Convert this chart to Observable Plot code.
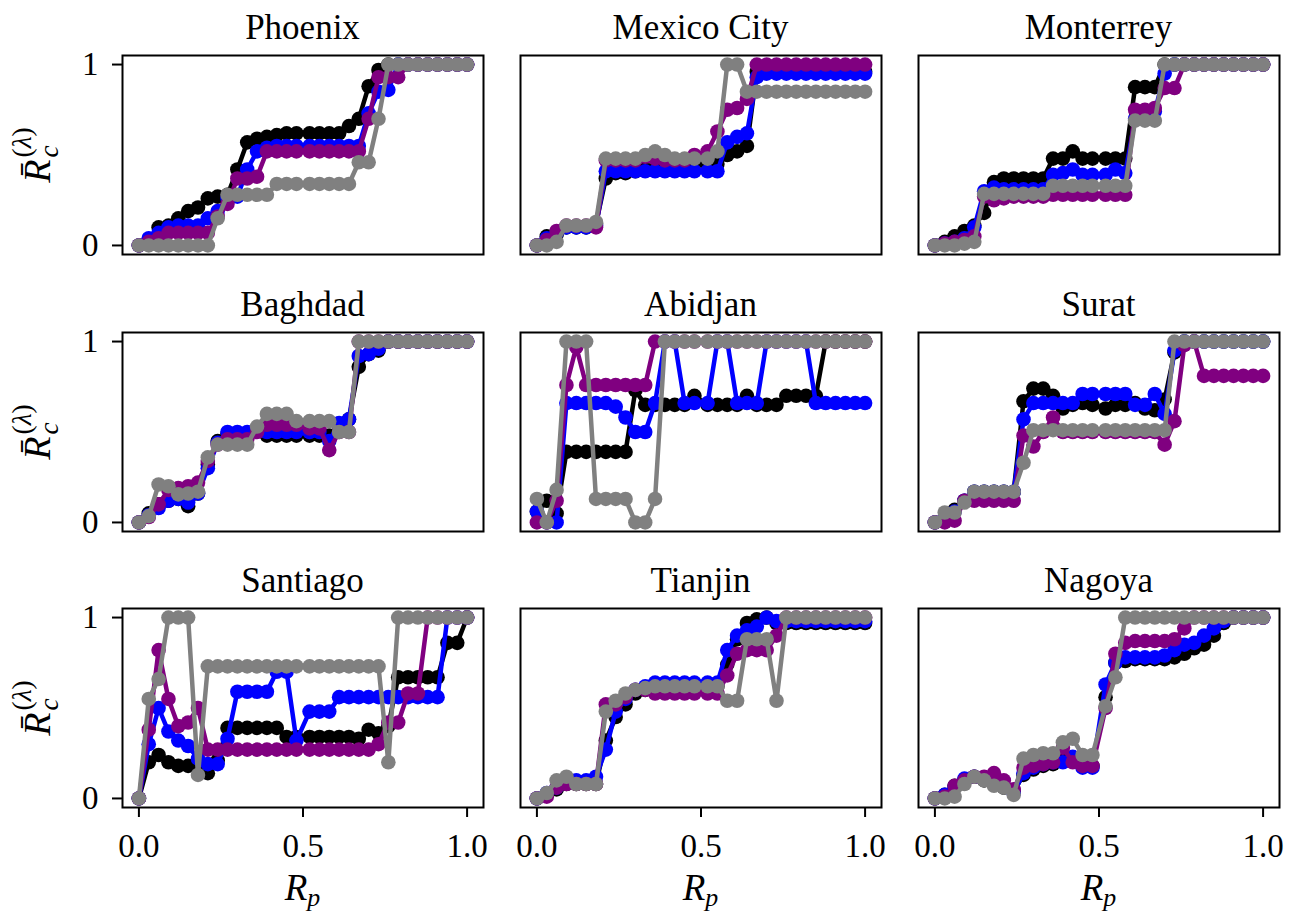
<!DOCTYPE html>
<html><head><meta charset="utf-8">
<script src="https://cdn.jsdelivr.net/npm/d3@7"></script>
<script src="https://cdn.jsdelivr.net/npm/@observablehq/plot@0.6"></script>
<style>
body{margin:0;background:#fff;}
#fig{position:relative;width:1299px;height:917px;overflow:hidden;font-family:"Liberation Serif",serif;color:#000;background:#fff;}
.panel{position:absolute;}
.lbl{position:absolute;white-space:nowrap;font-size:33px;line-height:1;}
.title{font-size:35px;}
.ctr{transform:translate(-50%,0);}
.rot{transform:translate(-50%,-50%) rotate(-90deg);font-size:38px;}
.stack{display:inline-block;vertical-align:-0.3em;font-size:0.72em;line-height:1;margin-left:2px;}
.stack span{display:block;}
.xl{font-size:37px;}
[aria-label$="axis tick"]{stroke-width:2px;}
</style></head><body><div id="fig"></div>
<script>
// shared x positions (R_p)
const xs = [0.00,0.03,0.06,0.09,0.12,0.15,0.18,0.21,0.24,0.27,0.30,0.33,0.36,0.39,0.42,0.45,0.48,0.52,0.55,0.58,0.61,0.64,0.67,0.70,0.73,0.76,0.79,0.82,0.85,0.88,0.91,0.94,0.97,1.00];
const cities = ["Phoenix","Mexico City","Monterrey","Baghdad","Abidjan","Surat","Santiago","Tianjin","Nagoya"];
const seriesColors = ["#000000","#0000ff","#800080","#808080"];
const xTicks = [0,0.5,1];
const yTicks = [0,1];

const phoenixBlack = [0,0.03,0.10,0.11,0.15,0.19,0.21,0.26,0.27,0.28,0.42,0.57,0.59,0.60,0.61,0.62,0.62,0.62,0.62,0.62,0.62,0.66,0.70,0.88,0.97,1,1,1,1,1,1,1,1,1];
const phoenixBlue = [0,0.04,0.07,0.10,0.11,0.11,0.11,0.15,0.19,0.26,0.27,0.42,0.52,0.54,0.55,0.55,0.55,0.55,0.55,0.55,0.55,0.55,0.55,0.73,0.85,0.86,1,1,1,1,1,1,1,1];
const phoenixPurple = [0,0.02,0.04,0.07,0.07,0.07,0.07,0.07,0.16,0.23,0.37,0.37,0.38,0.52,0.52,0.52,0.52,0.52,0.52,0.52,0.52,0.52,0.52,0.70,0.93,0.93,0.93,1,1,1,1,1,1,1];
const phoenixGray = [0,0,0,0,0,0,0,0,0.15,0.28,0.28,0.28,0.28,0.28,0.34,0.34,0.34,0.34,0.34,0.34,0.34,0.34,0.46,0.46,0.70,1,1,1,1,1,1,1,1,1];

const mexicoBlack = [0,0.05,0.06,0.10,0.10,0.10,0.12,0.37,0.40,0.40,0.41,0.42,0.43,0.44,0.45,0.45,0.45,0.45,0.45,0.50,0.52,0.55,0.96,0.96,0.96,0.96,0.96,0.96,0.96,0.96,0.96,0.96,0.96,0.96];
const mexicoBlue = [0,0.04,0.07,0.10,0.10,0.10,0.11,0.41,0.41,0.41,0.41,0.41,0.41,0.41,0.41,0.41,0.41,0.41,0.41,0.57,0.60,0.62,0.93,0.95,0.95,0.95,0.95,0.95,0.95,0.95,0.95,0.95,0.95,0.95];
const mexicoPurple = [0,0.03,0.08,0.11,0.11,0.11,0.10,0.47,0.47,0.47,0.47,0.49,0.48,0.47,0.47,0.47,0.50,0.52,0.63,0.75,0.76,0.81,1,1,1,1,1,1,1,1,1,1,1,1];
const mexicoGray = [0,0,0.02,0.11,0.11,0.11,0.13,0.48,0.48,0.48,0.48,0.50,0.52,0.50,0.48,0.48,0.48,0.48,0.52,1,1,0.85,0.85,0.85,0.85,0.85,0.85,0.85,0.85,0.85,0.85,0.85,0.85,0.85];

const monterreyBlack = [0,0.02,0.05,0.08,0.11,0.18,0.35,0.37,0.37,0.37,0.37,0.37,0.48,0.48,0.52,0.48,0.48,0.48,0.48,0.48,0.875,0.875,0.875,1,1,1,1,1,1,1,1,1,1,1];
const monterreyBlue = [0,0.01,0.02,0.04,0.10,0.30,0.32,0.31,0.31,0.31,0.31,0.31,0.39,0.40,0.42,0.39,0.39,0.39,0.42,0.40,0.70,0.70,0.74,0.95,1,1,1,1,1,1,1,1,1,1];
const monterreyPurple = [0,0.01,0.02,0.03,0.05,0.27,0.25,0.26,0.27,0.27,0.27,0.27,0.28,0.28,0.28,0.28,0.28,0.28,0.28,0.28,0.75,0.75,0.76,0.87,0.87,1,1,1,1,1,1,1,1,1];
const monterreyGray = [0,0,0,0.01,0.02,0.285,0.285,0.285,0.285,0.285,0.285,0.285,0.33,0.33,0.33,0.33,0.33,0.33,0.33,0.33,0.69,0.69,0.69,1,1,1,1,1,1,1,1,1,1,1];

const baghdadBlack = [0,0.05,0.10,0.12,0.13,0.09,0.16,0.32,0.45,0.49,0.49,0.49,0.52,0.48,0.48,0.48,0.48,0.48,0.48,0.48,0.54,0.57,0.86,0.93,0.95,1,1,1,1,1,1,1,1,1];
const baghdadBlue = [0,0.04,0.08,0.12,0.13,0.11,0.16,0.30,0.44,0.50,0.50,0.50,0.52,0.50,0.50,0.50,0.50,0.50,0.50,0.45,0.55,0.57,0.92,0.93,0.96,1,1,1,1,1,1,1,1,1];
const baghdadPurple = [0,0.03,0.10,0.18,0.19,0.20,0.22,0.34,0.43,0.46,0.46,0.46,0.50,0.54,0.54,0.54,0.54,0.52,0.52,0.40,0.50,0.50,1,1,1,1,1,1,1,1,1,1,1,1];
const baghdadGray = [0,0.035,0.21,0.20,0.155,0.16,0.17,0.36,0.43,0.43,0.43,0.43,0.53,0.60,0.60,0.60,0.56,0.56,0.56,0.56,0.50,0.50,1,1,1,1,1,1,1,1,1,1,1,1];

const abidjanBlack = [0.06,0.12,0.05,0.39,0.39,0.39,0.39,0.39,0.39,0.39,0.73,0.65,0.65,0.65,0.65,0.65,0.70,0.65,0.65,0.65,0.65,0.70,0.65,0.65,0.65,0.70,0.70,0.70,0.70,1,1,1,1,1];
const abidjanBlue = [0.06,0,0,0.66,0.66,0.66,0.66,0.66,0.64,0.58,0.50,0.50,0.66,1,1,0.66,0.66,0.66,1,1,0.66,0.66,0.66,1,1,1,1,1,0.66,0.66,0.66,0.66,0.66,0.66];
const abidjanPurple = [0,0,0.12,0.76,0.97,0.76,0.76,0.76,0.76,0.76,0.76,0.76,1,1,1,1,1,1,1,1,1,1,1,1,1,1,1,1,1,1,1,1,1,1];
const abidjanGray = [0.13,0,0.18,1,1,1,0.13,0.13,0.13,0.13,0,0,0.13,1,1,1,1,1,1,1,1,1,1,1,1,1,1,1,1,1,1,1,1,1];

const suratBlack = [0,0.02,0.07,0.12,0.17,0.17,0.17,0.17,0.17,0.67,0.74,0.74,0.70,0.63,0.65,0.66,0.65,0.63,0.65,0.65,0.66,0.63,0.62,0.68,0.94,1,1,1,1,1,1,1,1,1];
const suratBlue = [0,0.02,0.06,0.12,0.17,0.17,0.17,0.17,0.17,0.57,0.66,0.66,0.66,0.66,0.66,0.71,0.71,0.71,0.71,0.71,0.65,0.65,0.71,0.60,0.95,1,1,1,1,1,1,1,1,1];
const suratPurple = [0,0,0.01,0.12,0.12,0.12,0.12,0.12,0.12,0.48,0.42,0.50,0.58,0.50,0.50,0.50,0.50,0.50,0.50,0.50,0.50,0.50,0.50,0.43,0.56,0.98,1,0.81,0.81,0.81,0.81,0.81,0.81,0.81];
const suratGray = [0,0.055,0.055,0.11,0.17,0.17,0.17,0.17,0.17,0.33,0.51,0.51,0.51,0.51,0.51,0.51,0.51,0.51,0.51,0.51,0.51,0.51,0.51,0.51,1,1,1,1,1,1,1,1,1,1];

const santiagoBlack = [0,0.20,0.24,0.20,0.18,0.18,0.18,0.14,0.21,0.39,0.39,0.39,0.39,0.39,0.39,0.34,0.34,0.34,0.34,0.34,0.34,0.34,0.33,0.38,0.36,0.40,0.67,0.67,0.67,0.67,0.67,0.86,0.86,1];
const santiagoBlue = [0,0.30,0.50,0.37,0.32,0.29,0.22,0.19,0.19,0.33,0.59,0.59,0.59,0.59,0.70,0.70,0.32,0.48,0.48,0.48,0.56,0.56,0.56,0.56,0.56,0.56,0.56,0.56,0.56,0.56,0.56,1,1,1];
const santiagoPurple = [0,0.38,0.82,0.55,0.40,0.42,0.50,0.27,0.27,0.27,0.27,0.27,0.27,0.27,0.27,0.27,0.27,0.27,0.27,0.27,0.27,0.27,0.27,0.27,0.30,0.42,0.42,0.58,0.58,1,1,1,1,1];
const santiagoGray = [0,0.55,0.66,1,1,1,0.13,0.73,0.73,0.73,0.73,0.73,0.73,0.73,0.73,0.73,0.73,0.73,0.73,0.73,0.73,0.73,0.73,0.73,0.73,0.20,1,1,1,1,1,1,1,1];

const tianjinBlack = [0,0.02,0.05,0.08,0.08,0.08,0.08,0.32,0.45,0.52,0.58,0.60,0.62,0.62,0.62,0.62,0.62,0.62,0.62,0.74,0.88,0.97,0.99,1,0.97,0.97,0.97,0.97,0.97,0.97,0.97,0.97,0.97,0.97];
const tianjinBlue = [0,0.03,0.06,0.10,0.10,0.10,0.12,0.27,0.48,0.55,0.60,0.62,0.64,0.64,0.64,0.64,0.64,0.64,0.64,0.82,0.90,0.93,0.95,1,0.98,0.98,0.98,0.98,0.98,0.98,0.98,0.98,0.98,0.98];
const tianjinPurple = [0,0.01,0.06,0.08,0.08,0.08,0.08,0.52,0.52,0.56,0.60,0.60,0.58,0.58,0.58,0.58,0.58,0.58,0.58,0.68,0.80,0.82,0.82,0.82,0.90,1,1,1,1,1,1,1,1,1];
const tianjinGray = [0,0.03,0.10,0.12,0.08,0.08,0.08,0.48,0.54,0.58,0.60,0.61,0.62,0.62,0.62,0.62,0.62,0.62,0.62,0.54,0.54,0.88,0.88,0.88,0.54,1,1,1,1,1,1,1,1,1];

const nagoyaBlack = [0,0.02,0.07,0.10,0.12,0.10,0.08,0.06,0.04,0.13,0.16,0.18,0.19,0.21,0.22,0.18,0.18,0.56,0.75,0.76,0.77,0.77,0.77,0.77,0.78,0.80,0.83,0.85,0.90,0.97,1,1,1,1];
const nagoyaBlue = [0,0.02,0.06,0.11,0.12,0.11,0.09,0.07,0.03,0.14,0.17,0.19,0.20,0.20,0.23,0.17,0.17,0.63,0.75,0.78,0.78,0.78,0.78,0.79,0.82,0.85,0.86,0.90,0.94,0.98,1,1,1,1];
const nagoyaPurple = [0,0.01,0.07,0.10,0.12,0.12,0.14,0.10,0.05,0.17,0.18,0.19,0.20,0.28,0.20,0.18,0.18,0.50,0.80,0.86,0.87,0.87,0.87,0.87,0.88,0.94,1,1,1,1,1,1,1,1];
const nagoyaGray = [0,0,0.01,0.08,0.12,0.10,0.07,0.06,0.02,0.22,0.24,0.25,0.25,0.31,0.33,0.24,0.24,0.51,0.67,1,1,1,1,1,1,1,1,1,1,1,1,1,1,1];

const citySeries = [
  [phoenixBlack, phoenixBlue, phoenixPurple, phoenixGray],
  [mexicoBlack, mexicoBlue, mexicoPurple, mexicoGray],
  [monterreyBlack, monterreyBlue, monterreyPurple, monterreyGray],
  [baghdadBlack, baghdadBlue, baghdadPurple, baghdadGray],
  [abidjanBlack, abidjanBlue, abidjanPurple, abidjanGray],
  [suratBlack, suratBlue, suratPurple, suratGray],
  [santiagoBlack, santiagoBlue, santiagoPurple, santiagoGray],
  [tianjinBlack, tianjinBlue, tianjinPurple, tianjinGray],
  [nagoyaBlack, nagoyaBlue, nagoyaPurple, nagoyaGray]
];

const fig = document.getElementById("fig");
const frameLeft = [122, 520, 918];
const frameTop = [55, 332, 608];
const FW = 361, FH = 199;
const ML = 60, MR = 10, MT = 10, MB = 60;

function panel(k) {
  const col = k % 3, row = Math.floor(k / 3);
  const marks = [];
  citySeries[k].forEach((vals, s) => {
    const data = vals.map((y, i) => ({x: xs[i], y}));
    marks.push(Plot.line(data, {x: "x", y: "y", stroke: seriesColors[s], strokeWidth: 4.5}));
    marks.push(Plot.dot(data, {x: "x", y: "y", fill: seriesColors[s], r: 7.3}));
  });
  marks.push(Plot.frame({stroke: "black", strokeWidth: 2}));
  const svg = Plot.plot({
    width: FW + ML + MR, height: FH + MT + MB,
    marginLeft: ML, marginRight: MR, marginTop: MT, marginBottom: MB,
    style: {background: "transparent", fontFamily: "'Liberation Serif', serif", fontSize: "33px", color: "black", overflow: "visible"},
    x: {domain: [-0.05, 1.05], ticks: xTicks, tickFormat: d => d.toFixed(1), tickSize: 10, tickPadding: 16, axis: row === 2 ? "bottom" : null, label: null},
    y: {domain: [-0.05, 1.05], ticks: yTicks, tickFormat: d => String(d), tickSize: 10, tickPadding: 14, axis: col === 0 ? "left" : null, label: null},
    marks
  });
  const wrap = document.createElement("div");
  wrap.className = "panel";
  wrap.style.left = (frameLeft[col] - ML) + "px";
  wrap.style.top = (frameTop[row] - MT) + "px";
  wrap.appendChild(svg);
  fig.appendChild(wrap);

  const t = document.createElement("div");
  t.className = "lbl title ctr";
  t.textContent = cities[k];
  t.style.left = (frameLeft[col] + FW / 2) + "px";
  t.style.top = (frameTop[row] - 45) + "px";
  fig.appendChild(t);
}
for (let k = 0; k < 9; k++) panel(k);

// y labels
for (let r = 0; r < 3; r++) {
  const d = document.createElement("div");
  d.className = "lbl rot";
  d.innerHTML = '<i>R\u0304</i><span class="stack"><span>(<i>λ</i>)</span><span><i>c</i></span></span>';
  d.style.left = "36px";
  d.style.top = (frameTop[r] + FH / 2) + "px";
  fig.appendChild(d);
}
// x labels
for (let c = 0; c < 3; c++) {
  const d = document.createElement("div");
  d.className = "lbl ctr xl";
  d.innerHTML = '<i>R</i><i style="font-size:0.7em;position:relative;top:0.25em">p</i>';
  d.style.left = (frameLeft[c] + FW * (0.55 / 1.1)) + "px";
  d.style.top = "869px";
  fig.appendChild(d);
}
</script></body></html>
